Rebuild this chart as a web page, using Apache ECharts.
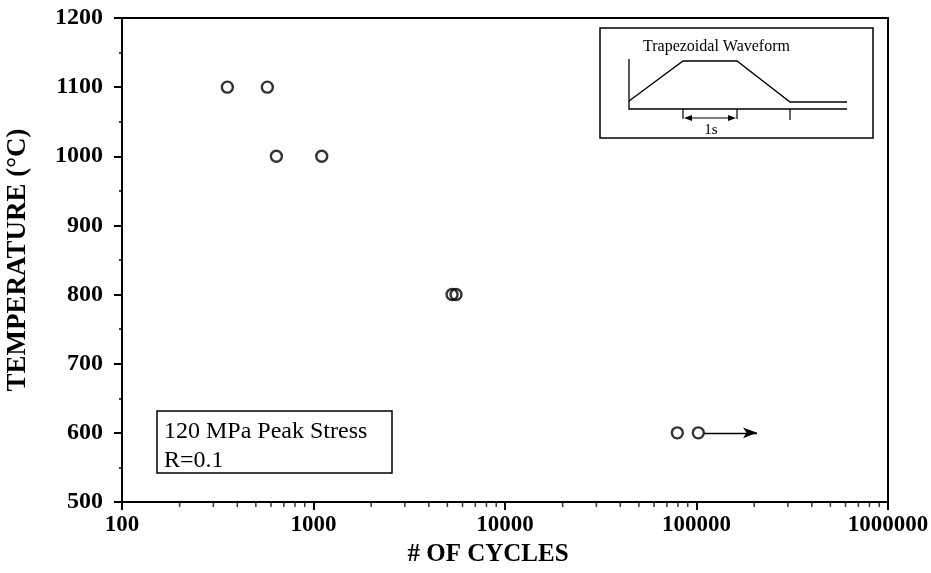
<!DOCTYPE html>
<html>
<head>
<meta charset="utf-8">
<script src="https://cdn.jsdelivr.net/npm/echarts@6/dist/echarts.min.js"></script>
<style>html,body{margin:0;padding:0;background:#fff}#c{width:931px;height:573px}</style>
</head>
<body>
<div id="c"></div>
<script>
// Data
const cycles1100 = [355, 574];
const cycles1000 = [640, 1104];
const cycles800 = [5290, 5550];
const cycles600 = [79400, 102200];
const temperatures = [1100, 1000, 800, 600];
const runoutArrow = [110000, 207000]; // run-out arrow at 600 °C
const minorTickValues = [200,300,400,500,600,700,800,900,2000,3000,4000,5000,6000,7000,8000,9000,20000,30000,40000,50000,60000,70000,80000,90000,200000,300000,400000,500000,600000,700000,800000,900000];
const xTickLabels = ['100','1000','10000','100000','1000000'];
const yMin = 500, yMax = 1200, yStep = 100;

const points = [];
[cycles1100, cycles1000, cycles800, cycles600].forEach((arr, i) => {
  arr.forEach(c => points.push([c, temperatures[i]]));
});

const FONT = '"Liberation Serif", "Times New Roman", serif';
const chart = echarts.init(document.getElementById('c'));
chart.setOption({
  animation: false,
  backgroundColor: '#fff',
  grid: { left: 122, right: 43, top: 18, bottom: 71, show: true, borderColor: '#000', borderWidth: 2,
          containLabel: false, outerBoundsMode: 'none' },
  xAxis: {
    type: 'log', logBase: 10, min: 100, max: 1000000,
    name: '# OF CYCLES', nameLocation: 'middle', nameGap: 40,
    nameTextStyle: { fontFamily: FONT, fontWeight: 'bold', fontSize: 25, color: '#000', padding: [0, 34, 0, 0] },
    axisLine: { lineStyle: { color: '#000', width: 2 } },
    axisTick: { length: 8, lineStyle: { color: '#000', width: 2 } },
    axisLabel: { fontFamily: FONT, fontWeight: 'bold', fontSize: 23, color: '#000', margin: 12,
      formatter: v => { const s = String(Math.round(v)); return xTickLabels.includes(s) ? s : ''; } },
    splitLine: { show: false }
  },
  yAxis: {
    type: 'value', min: yMin, max: yMax, interval: yStep,
    name: 'TEMPERATURE (°C)', nameLocation: 'middle', nameGap: 90, nameRotate: 90,
    nameTextStyle: { fontFamily: FONT, fontWeight: 'bold', fontSize: 27, color: '#000' },
    axisLine: { show: true, lineStyle: { color: '#000', width: 2 } },
    axisTick: { show: true, length: 8, lineStyle: { color: '#000', width: 2 } },
    minorTick: { show: true, splitNumber: 2, length: 3, lineStyle: { color: '#000', width: 1.5 } },
    axisLabel: { fontFamily: FONT, fontWeight: 'bold', fontSize: 24, color: '#000', margin: 19,
      formatter: v => String(v) },
    splitLine: { show: false }
  },
  series: [
    {
      type: 'scatter', data: points, symbol: 'circle', symbolSize: 11,
      itemStyle: { color: 'rgba(0,0,0,0)', borderColor: '#000', borderWidth: 2.4 },
      z: 5,
      markLine: {
        silent: true, symbol: ['none', 'arrow'], symbolSize: [8, 14],
        lineStyle: { color: '#000', width: 1.3, type: 'solid' },
        label: { show: false },
        data: [[{ coord: [runoutArrow[0], temperatures[3]] }, { coord: [runoutArrow[1], temperatures[3]] }]]
      }
    },
    {
      type: 'scatter', data: minorTickValues.map(v => [v, yMin]), clip: false, silent: true,
      symbol: 'rect', symbolSize: [1.5, 4], symbolOffset: [0, 3],
      itemStyle: { color: '#000' }
    }
  ],
  graphic: [
    // inset waveform box
    { type: 'rect', shape: { x: 600, y: 28, width: 273, height: 110 }, style: { fill: '#fff', stroke: '#000', lineWidth: 1.5 }, z: 10 },
    { type: 'text', style: { x: 643, y: 47, text: 'Trapezoidal Waveform', font: '16px ' + FONT, fill: '#000', textVerticalAlign: 'middle' }, z: 11 },
    { type: 'polyline', shape: { points: [[629, 59], [629, 109], [847, 109]] }, style: { stroke: '#000', lineWidth: 1.3, fill: null }, z: 11 },
    { type: 'polyline', shape: { points: [[629, 101], [683, 61], [737, 61], [790, 102], [847, 102]] }, style: { stroke: '#000', lineWidth: 1.3, fill: null }, z: 11 },
    { type: 'line', shape: { x1: 683, y1: 109, x2: 683, y2: 119 }, style: { stroke: '#000', lineWidth: 1.2 }, z: 11 },
    { type: 'line', shape: { x1: 737, y1: 109, x2: 737, y2: 119 }, style: { stroke: '#000', lineWidth: 1.2 }, z: 11 },
    { type: 'line', shape: { x1: 790, y1: 109, x2: 790, y2: 120 }, style: { stroke: '#000', lineWidth: 1.2 }, z: 11 },
    { type: 'line', shape: { x1: 686, y1: 118, x2: 734, y2: 118 }, style: { stroke: '#000', lineWidth: 1.2 }, z: 11 },
    { type: 'polygon', shape: { points: [[684, 118], [692, 115], [692, 121]] }, style: { fill: '#000' }, z: 11 },
    { type: 'polygon', shape: { points: [[736, 118], [728, 115], [728, 121]] }, style: { fill: '#000' }, z: 11 },
    { type: 'text', style: { x: 711, y: 130, text: '1s', font: '15px ' + FONT, fill: '#000', textAlign: 'center', textVerticalAlign: 'middle' }, z: 11 },
    // stress text box
    { type: 'rect', shape: { x: 157, y: 411, width: 235, height: 62 }, style: { fill: '#fff', stroke: '#000', lineWidth: 1.5 }, z: 10 },
    { type: 'text', style: { x: 164, y: 432, text: '120 MPa Peak Stress', font: '24px ' + FONT, fill: '#000', textVerticalAlign: 'middle' }, z: 11 },
    { type: 'text', style: { x: 164, y: 461, text: 'R=0.1', font: '24px ' + FONT, fill: '#000', textVerticalAlign: 'middle' }, z: 11 }
  ]
});
</script>
</body>
</html>
